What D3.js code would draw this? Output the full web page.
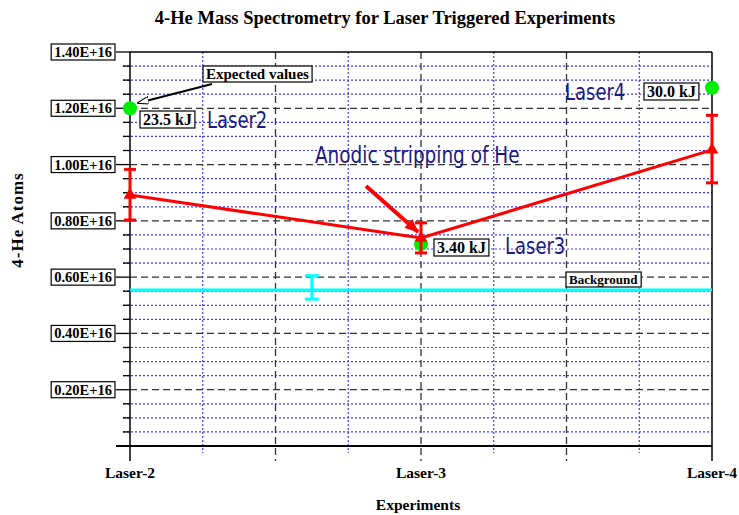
<!DOCTYPE html>
<html>
<head>
<meta charset="utf-8">
<script src="https://cdn.jsdelivr.net/npm/d3@7"></script>
<style>
  body { margin: 0; background: #fff; }
  .serif { font-family: "Liberation Serif", "Times New Roman", serif; font-weight: bold; }
  .navy { font-family: "DejaVu Sans Condensed", "DejaVu Sans", sans-serif; fill: #1a1a80; }
</style>
</head>
<body>
<div class="chart"></div>
<script>
// values in units of 1E+16 atoms
const categories = ["Laser-2", "Laser-3", "Laser-4"];
const measured = [0.892, 0.739, 1.052];
const errHigh = [0.983, 0.793, 1.175];
const errLow = [0.803, 0.686, 0.935];
const expected = [1.20, 0.718, 1.273];
const energies = ["23.5 kJ", "3.40 kJ", "30.0 kJ"];
const laserNames = ["Laser2", "Laser3", "Laser4"];
const background = 0.554;
const bgErr = [0.522, 0.605];
const bgErrAt = 0.625;
const yTicks = [0.2, 0.4, 0.6, 0.8, 1.0, 1.2, 1.4];
const yTickLabels = ["0.20E+16", "0.40E+16", "0.60E+16", "0.80E+16", "1.00E+16", "1.20E+16", "1.40E+16"];

var width = 739, height = 515;
var svg = d3.select(".chart").append("svg")
    .attr("width", width)
    .attr("height", height);

const x = d3.scaleLinear().domain([0, 2]).range([130, 712]);
const y = d3.scaleLinear().domain([0, 1.4]).range([446, 52]);

// grid
const minorY = d3.range(1, 28).map(i => i * 0.05).filter(v => Math.abs(v / 0.2 - Math.round(v / 0.2)) > 1e-6);
svg.append("g").selectAll("line").data(minorY).enter().append("line")
    .attr("x1", 123).attr("x2", x(2))
    .attr("y1", d => y(d)).attr("y2", d => y(d))
    .attr("stroke", "#3a3aff").attr("stroke-width", 1.2).attr("stroke-dasharray", "2,2");
const minorX = [0.25, 0.75, 1.25, 1.75];
svg.append("g").selectAll("line").data(minorX).enter().append("line")
    .attr("x1", d => x(d)).attr("x2", d => x(d))
    .attr("y1", y(1.4)).attr("y2", y(0) + 7)
    .attr("stroke", "#3a3aff").attr("stroke-width", 1.2).attr("stroke-dasharray", "2,2");
svg.append("g").selectAll("line").data(yTicks.slice(0, -1)).enter().append("line")
    .attr("x1", x(0)).attr("x2", x(2))
    .attr("y1", d => y(d)).attr("y2", d => y(d))
    .attr("stroke", "#333").attr("stroke-width", 1.3).attr("stroke-dasharray", "7,4");
svg.append("g").selectAll("line").data([0.5, 1, 1.5]).enter().append("line")
    .attr("x1", d => x(d)).attr("x2", d => x(d))
    .attr("y1", y(1.4)).attr("y2", y(0) + 15)
    .attr("stroke", "#333").attr("stroke-width", 1.3).attr("stroke-dasharray", "7,4");

// frame and axes
svg.append("line").attr("x1", 116).attr("x2", x(2)).attr("y1", y(0)).attr("y2", y(0))
    .attr("stroke", "#000").attr("stroke-width", 2);
svg.append("line").attr("x1", x(0)).attr("x2", x(2)).attr("y1", y(1.4)).attr("y2", y(1.4))
    .attr("stroke", "#000").attr("stroke-width", 1.5);
svg.append("line").attr("x1", x(0)).attr("x2", x(0)).attr("y1", y(1.4)).attr("y2", y(0) + 15)
    .attr("stroke", "#000").attr("stroke-width", 1.5);
svg.append("line").attr("x1", x(2)).attr("x2", x(2)).attr("y1", y(1.4)).attr("y2", y(0) + 15)
    .attr("stroke", "#000").attr("stroke-width", 1.5);
svg.append("g").selectAll("line").data(yTicks).enter().append("line")
    .attr("x1", 116).attr("x2", x(0))
    .attr("y1", d => y(d)).attr("y2", d => y(d))
    .attr("stroke", "#000").attr("stroke-width", 1.3);
svg.append("g").selectAll("line").data(minorY).enter().append("line")
    .attr("x1", 123).attr("x2", x(0))
    .attr("y1", d => y(d)).attr("y2", d => y(d))
    .attr("stroke", "#000").attr("stroke-width", 1.3);

function boxed(tx, ty, label, size, anchor) {
    const g = svg.append("g");
    const t = g.append("text").attr("class", "serif")
        .attr("x", tx).attr("y", ty)
        .attr("text-anchor", anchor || "start")
        .attr("font-size", size)
        .text(label);
    const b = t.node().getBBox();
    g.insert("rect", "text")
        .attr("x", b.x - 3).attr("y", b.y)
        .attr("width", b.width + 6).attr("height", b.height)
        .attr("fill", "#fff").attr("stroke", "#000").attr("stroke-width", 1.2);
    return g;
}

yTicks.forEach((v, i) => boxed(112, y(v) + 5, yTickLabels[i], 14.5, "end"));

// x tick labels
svg.append("g").selectAll("text").data(categories).enter().append("text")
    .attr("class", "serif").attr("font-size", 15.5)
    .attr("text-anchor", "middle")
    .attr("x", (d, i) => x(i)).attr("y", 478)
    .text(d => d);

// titles
svg.append("text").attr("class", "serif").attr("font-size", 18.5)
    .attr("text-anchor", "middle").attr("x", 385).attr("y", 24)
    .text("4-He Mass Spectrometry for Laser Triggered Experiments");
svg.append("text").attr("class", "serif").attr("font-size", 15.5)
    .attr("text-anchor", "middle").attr("x", 418).attr("y", 510)
    .text("Experiments");
svg.append("text").attr("class", "serif").attr("font-size", 17)
    .attr("letter-spacing", 1)
    .attr("text-anchor", "middle")
    .attr("transform", "translate(23,220) rotate(-90)")
    .text("4-He Atoms");

// background line with error bar
svg.append("line").attr("x1", x(0)).attr("x2", x(2))
    .attr("y1", y(background)).attr("y2", y(background))
    .attr("stroke", "#00ffff").attr("stroke-width", 3);
const bg = svg.append("g").attr("stroke", "#00ffff").attr("stroke-width", 3);
bg.append("line").attr("x1", x(bgErrAt)).attr("x2", x(bgErrAt)).attr("y1", y(bgErr[0])).attr("y2", y(bgErr[1]));
bgErr.forEach(v => bg.append("line").attr("x1", x(bgErrAt) - 7).attr("x2", x(bgErrAt) + 7).attr("y1", y(v)).attr("y2", y(v)));

// expected values
svg.append("g").selectAll("circle").data(expected).enter().append("circle")
    .attr("cx", (d, i) => x(i)).attr("cy", d => y(d)).attr("r", 7)
    .attr("fill", "#00ee00");

// measured series
const red = "#ff0000";
svg.append("path").datum(measured)
    .attr("d", d3.line().x((d, i) => x(i)).y(d => y(d)))
    .attr("fill", "none").attr("stroke", red).attr("stroke-width", 3);
const eb = svg.append("g").attr("stroke", red).attr("stroke-width", 3);
measured.forEach((d, i) => {
    eb.append("line").attr("x1", x(i)).attr("x2", x(i)).attr("y1", y(errLow[i])).attr("y2", y(errHigh[i]));
    [errLow[i], errHigh[i]].forEach(v => eb.append("line")
        .attr("x1", x(i) - 6).attr("x2", x(i) + 6).attr("y1", y(v)).attr("y2", y(v)));
});
svg.append("g").selectAll("path").data(measured).enter().append("path")
    .attr("d", d3.symbol(d3.symbolTriangle, 70))
    .attr("transform", (d, i) => `translate(${x(i)},${y(d)})`)
    .attr("fill", red);

// annotations
const defs = svg.append("defs");
defs.append("marker").attr("id", "hollow").attr("viewBox", "0 0 12 8")
    .attr("refX", 11).attr("refY", 4).attr("markerWidth", 12).attr("markerHeight", 8)
    .attr("markerUnits", "userSpaceOnUse").attr("orient", "auto")
    .append("path").attr("d", "M0,0 L12,4 L0,8 Z")
    .attr("fill", "#fff").attr("stroke", "#000").attr("stroke-width", 1);
defs.append("marker").attr("id", "redhead").attr("viewBox", "0 0 14 12")
    .attr("refX", 13).attr("refY", 6).attr("markerWidth", 14).attr("markerHeight", 12)
    .attr("markerUnits", "userSpaceOnUse").attr("orient", "auto")
    .append("path").attr("d", "M0,0 L14,6 L0,12 Z").attr("fill", red);

svg.append("line").attr("x1", 212).attr("y1", 84).attr("x2", 138).attr("y2", 103)
    .attr("stroke", "#000").attr("stroke-width", 2).attr("marker-end", "url(#hollow)");
boxed(206, 79, "Expected values", 15);

svg.append("line").attr("x1", 366).attr("y1", 186).attr("x2", 418).attr("y2", 232)
    .attr("stroke", red).attr("stroke-width", 4).attr("marker-end", "url(#redhead)");

const boxPos = [[143, 125], [437, 253], [647, 97]];
energies.forEach((e, i) => boxed(boxPos[i][0], boxPos[i][1], e, 16));
boxed(569, 284, "Background", 13);

const namePos = [[207, 128], [505, 254], [565, 100]];
laserNames.forEach((n, i) => svg.append("text").attr("class", "navy")
    .attr("font-size", 20)
    .attr("transform", `translate(${namePos[i][0]},${namePos[i][1]}) scale(1,1.15)`)
    .text(n));
svg.append("text").attr("class", "navy").attr("font-size", 20.5)
    .attr("transform", "translate(315,163) scale(1,1.15)")
    .text("Anodic stripping of He");
</script>
</body>
</html>
